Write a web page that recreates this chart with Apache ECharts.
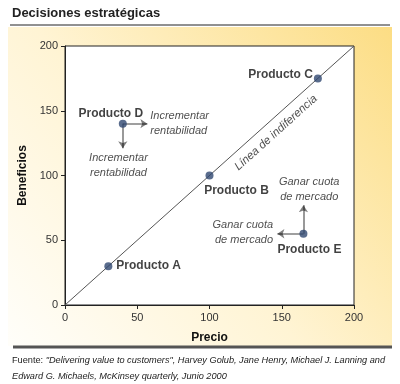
<!DOCTYPE html>
<html><head><meta charset="utf-8">
<script src="https://cdn.jsdelivr.net/npm/echarts@6/dist/echarts.min.js"></script>
<style>html,body{margin:0;padding:0;background:#fff}#c{width:400px;height:384px}</style>
</head><body><div id="c"></div>
<script>
var products = ['Producto A','Producto B','Producto C','Producto D','Producto E'];
var precio = [30, 100, 175, 40, 165];
var beneficios = [30, 100, 175, 140, 55];
var xTicks = [0, 50, 100, 150, 200];
var yTicks = [0, 50, 100, 150, 200];
var indiffLine = [[0, 0], [200, 200]];
// arrows: [start, end]
var arrowsD = [[[40,140],[57,140]], [[40,140],[40,121]]];
var arrowsE = [[[165,55],[165,77]], [[165,55],[147,55]]];
var notes = [
  {text:'Incrementar\nrentabilidad', at:[59,140], align:'left'},
  {text:'Incrementar\nrentabilidad', at:[37,108], align:'center'},
  {text:'Ganar cuota\nde mercado', at:[169,89.5], align:'center'},
  {text:'Ganar cuota\nde mercado', at:[144,56], align:'right'}
];
var lineName = 'Línea de indiferencia';
var lineNamePos = [146, 133];

var font = 'Arial, "Liberation Sans", sans-serif';
var chart = echarts.init(document.getElementById('c'), null, {renderer:'canvas'});

var labelPos = {
  'Producto A': {position:'right', offset:[-1,0]},
  'Producto B': {position:'bottom', offset:[27,0]},
  'Producto C': {position:'left', offset:[4,-4]},
  'Producto D': {position:'top', offset:[-12,5]},
  'Producto E': {position:'bottom', offset:[6,1]}
};
var pts = products.map(function(n,i){
  var lp = labelPos[n];
  return {value:[precio[i], beneficios[i]], name:n,
    label:{show:true, formatter:n, position:lp.position, offset:lp.offset}};
});

chart.setOption({
  animation:false,
  graphic:[
    {type:'rect', z:-10, shape:{x:8,y:27,width:384,height:319},
     style:{fill:new echarts.graphic.LinearGradient(0,1,1,0,[
       {offset:0,color:'#fffefa'},{offset:0.45,color:'#fff4d4'},{offset:1,color:'#fcdd84'}])}},
    {type:'text', left:12, top:7, style:{text:'Decisiones estratégicas', font:'bold 13px '+font, fill:'#222'}},
    {type:'line', shape:{x1:10,y1:25,x2:390,y2:25}, style:{stroke:'#222', lineWidth:1}},
    {type:'line', shape:{x1:13,y1:347,x2:392,y2:347}, style:{stroke:'#555', lineWidth:3}},
    {type:'text', left:12, top:352, style:{
      rich:{n:{font:'9.2px '+font, fill:'#222'}, i:{font:'italic 9.2px '+font, fill:'#222'}},
      text:'{n|Fuente: }{i|"Delivering value to customers", Harvey Golub, Jane Henry, Michael J. Lanning and}\n{i|Edward G. Michaels, McKinsey quarterly, Junio 2000}',
      lineHeight:16}}
  ],
  grid:{left:65, right:46, top:46, bottom:79, show:true, backgroundColor:'#fff', borderColor:'#222', borderWidth:1},
  xAxis:{type:'value', min:0, max:200, interval:50,
    name:'Precio', nameLocation:'middle', nameGap:27,
    nameTextStyle:{fontFamily:font, fontWeight:'bold', fontSize:12, color:'#111'},
    axisLine:{show:true, lineStyle:{color:'#222'}},
    axisTick:{show:true, length:4, lineStyle:{color:'#222'}},
    axisLabel:{fontFamily:font, fontSize:11, color:'#333', margin:7,
      formatter:function(v){return xTicks.indexOf(v)>=0? String(v):'';}},
    splitLine:{show:false}},
  yAxis:{type:'value', min:0, max:200, interval:50,
    name:'Beneficios', nameLocation:'middle', nameGap:36,
    nameTextStyle:{fontFamily:font, fontWeight:'bold', fontSize:12, color:'#111'},
    axisLine:{show:true, lineStyle:{color:'#222'}},
    axisTick:{show:true, length:4, lineStyle:{color:'#222'}},
    axisLabel:{fontFamily:font, fontSize:11, color:'#333', margin:7,
      formatter:function(v){return yTicks.indexOf(v)>=0? String(v):'';}},
    splitLine:{show:false}},
  series:[
    {type:'line', data:indiffLine, symbol:'none', silent:true,
     lineStyle:{color:'#555', width:1}, z:1},
    {type:'scatter', data:[{value:lineNamePos}], symbolSize:0, silent:true,
     label:{show:true, formatter:lineName, rotate:42, fontFamily:font, fontStyle:'italic', fontSize:11.5, color:'#222', position:'inside'}},
    {type:'scatter', symbolSize:0, silent:true,
     data:notes.map(function(n){return {value:n.at, name:n.text,
       label:{align:n.align, position: n.align==='left'?'right':(n.align==='right'?'left':'inside')}};}),
     label:{show:true, formatter:function(p){return p.name;}, verticalAlign:'middle',
       fontFamily:font, fontStyle:'italic', fontSize:11, color:'#222', lineHeight:15, distance:0}},
    {type:'lines', coordinateSystem:'cartesian2d', silent:true, z:3,
     data:arrowsD.concat(arrowsE).map(function(a){return {coords:a};}),
     symbol:['none','arrow'], symbolSize:7,
     lineStyle:{color:'#000', width:1.6}},
    {type:'scatter', data:pts, symbolSize:8, z:5,
     itemStyle:{color:'#2f4770'},
     label:{fontFamily:font, fontWeight:'bold', fontSize:12, color:'#111'}}
  ]
});
</script></body></html>
